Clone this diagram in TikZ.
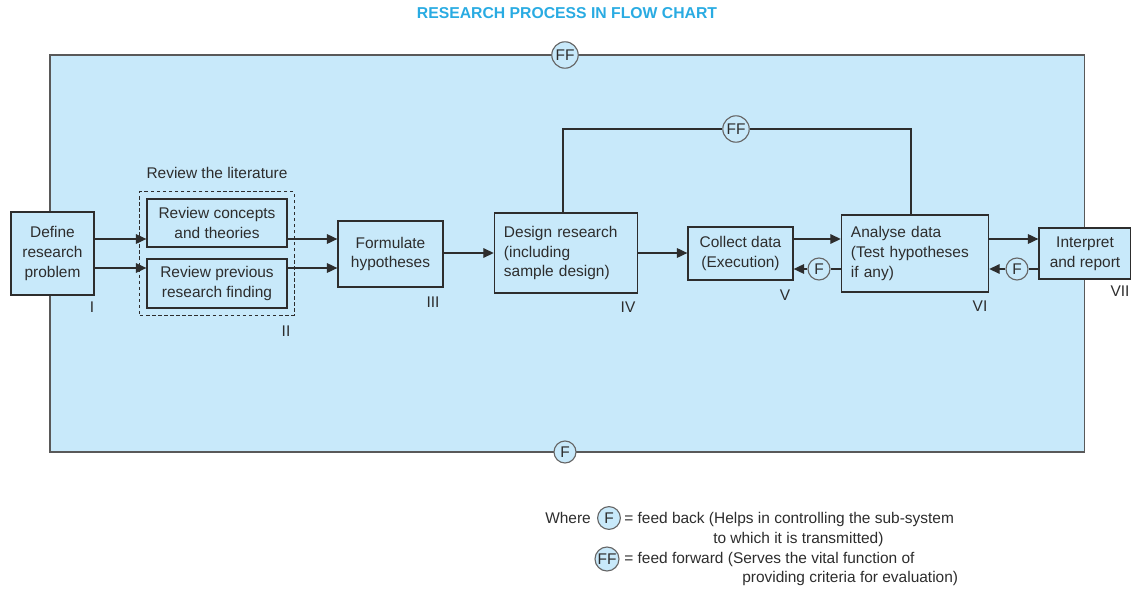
\documentclass[tikz,border=0pt]{standalone}
\usepackage{fontspec}
\setmainfont{Liberation Sans}
\usetikzlibrary{arrows.meta,fit,positioning}
\definecolor{sysblue}{RGB}{200,233,250}
\definecolor{titleblue}{RGB}{41,171,226}
\definecolor{inkgray}{RGB}{45,45,45}
\begin{document}
\begin{tikzpicture}[x=0.025cm, y=-0.025cm,
        every node/.style={font=\fontsize{11}{14}\selectfont, text=inkgray},
        stage/.style={draw=inkgray, line width=0.9pt, fill=sysblue, align=center, inner sep=2pt},
        leftstage/.style={stage, align=left, inner xsep=0.24cm},
        fbcircle/.style={circle, draw=black!60, line width=0.8pt, fill=sysblue, inner sep=0pt, minimum size=0.55cm},
        ffcircle/.style={fbcircle, minimum size=0.66cm},
        flow/.style={-{Triangle[length=2.6mm, width=2.4mm]}, line width=0.9pt, draw=inkgray},
        link/.style={line width=0.9pt, draw=inkgray},
        numeral/.style={inner sep=0pt}
      ]
      \useasboundingbox (0,0) rectangle (1131,592);

      \node[font=\fontsize{11.2}{14}\selectfont\bfseries, text=titleblue] (title) at (567,13) {RESEARCH PROCESS IN FLOW CHART};

      % system boundary
      \node[draw=black!65, line width=0.9pt, fill=sysblue, minimum width=25.85cm, minimum height=9.925cm] (system) at (567,253.5) {};
      \node[ffcircle] (ffTop) at (565,55) {FF};
      \node[fbcircle] (fbBottom) at (565,452) {F};

      % stages
      \node[stage, minimum width=2.075cm, minimum height=2.075cm] (define) at (52.5,253.5) {Define\\research\\problem};
      \node[stage, minimum width=3.5cm, minimum height=1.2cm] (concepts) at (217,223) {Review concepts\\and theories};
      \node[stage, minimum width=3.5cm, minimum height=1.225cm] (previous) at (217,283.5) {Review previous\\research finding};
      \node[draw=inkgray, dashed, dash pattern=on 2.5pt off 1.8pt, line width=0.7pt, inner sep=0.16cm, fit=(concepts)(previous)] (literature) {};
      \node[above=0.2cm of literature] (litLabel) {Review the literature};
      \node[stage, minimum width=2.625cm, minimum height=1.65cm] (formulate) at (390.5,254) {Formulate\\hypotheses};
      \node[leftstage, text width=3.1cm, minimum height=2cm] (design) at (566,253) {Design research\\(including\\sample design)};
      \node[stage, minimum width=2.625cm, minimum height=1.325cm] (collect) at (740.5,253.5) {Collect data\\(Execution)};
      \node[leftstage, text width=3.2cm, minimum height=1.925cm] (analyse) at (915,253.5) {Analyse data\\(Test hypotheses\\if any)};
      \node[stage, minimum width=2.3cm, minimum height=1.275cm] (interpret) at (1085,253.5) {Interpret\\and report};

      % stage numerals
      \node[numeral] (nI) at (92,307) {I};
      \node[numeral] (nII) at (286,331) {II};
      \node[numeral] (nIII) at (433,302) {III};
      \node[numeral] (nIV) at (628,307) {IV};
      \node[numeral] (nV) at (785,295) {V};
      \node[numeral] (nVI) at (980,306) {VI};
      \node[numeral] (nVII) at (1120,291) {VII};

      % feedback circles
      \node[fbcircle] (fbCollect) at (819,269) {F};
      \node[fbcircle] (fbAnalyse) at (1017,269) {F};
      \node[ffcircle] (ffDesign) at (736,129) {FF};

      % flows
      \draw[flow] (define.east |- 0,239) -- (concepts.west |- 0,239);
      \draw[flow] (define.east |- 0,268) -- (previous.west |- 0,268);
      \draw[flow] (concepts.east |- 0,239) -- (formulate.west |- 0,239);
      \draw[flow] (previous.east |- 0,268) -- (formulate.west |- 0,268);
      \draw[flow] (formulate.east |- 0,253) -- (design.west |- 0,253);
      \draw[flow] (design.east |- 0,253) -- (collect.west |- 0,253);
      \draw[flow] (collect.east |- 0,239) -- (analyse.west |- 0,239);
      \draw[flow] (analyse.east |- 0,239) -- (interpret.west |- 0,239);
      \draw[link] (analyse.west |- fbCollect) -- (fbCollect);
      \draw[flow] (fbCollect) -- (collect.east |- fbCollect);
      \draw[link] (interpret.west |- fbAnalyse) -- (fbAnalyse);
      \draw[flow] (fbAnalyse) -- (analyse.east |- fbAnalyse);
      \draw[link] (design.north -| 563,0) |- (ffDesign);
      \draw[link] (ffDesign) -| (analyse.north -| 911,0);

      % legend
      \node[anchor=base west, inner sep=0pt] (legWhere) at (545,523) {Where};
      \node[fbcircle, minimum size=0.57cm] (legF) at (609,518) {F};
      \node[anchor=base west, inner sep=0pt] (legFtext) at (624,523) {= feed back (Helps in controlling the sub-system};
      \node[anchor=base west, inner sep=0pt] (legFtext2) at (713,543) {to which it is transmitted)};
      \node[ffcircle, minimum size=0.6cm] (legFF) at (607,559) {FF};
      \node[anchor=base west, inner sep=0pt] (legFFtext) at (624,563) {= feed forward (Serves the vital function of};
      \node[anchor=base west, inner sep=0pt] (legFFtext2) at (742,582) {providing criteria for evaluation)};
    \end{tikzpicture}
\end{document}
